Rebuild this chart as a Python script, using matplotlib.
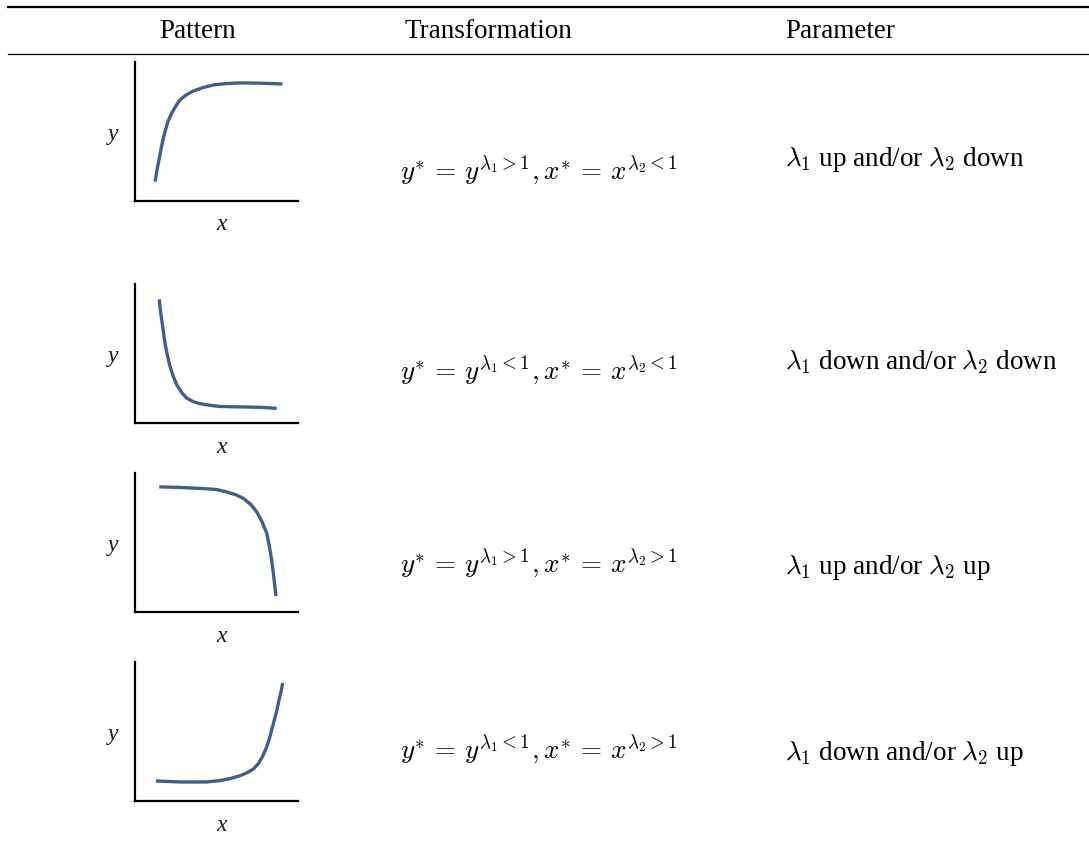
import matplotlib
matplotlib.use("Agg")
import matplotlib.pyplot as plt
from matplotlib.lines import Line2D

plt.rcParams['mathtext.fontset'] = 'cm'
plt.rcParams['font.family'] = ['Liberation Serif', 'DejaVu Serif']

# ---- data ----
headers = ["Pattern", "Transformation", "Parameter"]

curve1_x = [0.123, 0.137, 0.153, 0.168, 0.184, 0.202, 0.225, 0.250, 0.276, 0.313,
            0.358, 0.415, 0.481, 0.552, 0.624, 0.706, 0.787, 0.904]
curve1_y = [0.139, 0.235, 0.331, 0.422, 0.499, 0.571, 0.631, 0.683, 0.727, 0.763,
            0.791, 0.815, 0.835, 0.844, 0.849, 0.849, 0.847, 0.842]

curve2_x = [0.149, 0.155, 0.164, 0.174, 0.184, 0.198, 0.215, 0.235, 0.256, 0.286,
            0.317, 0.358, 0.399, 0.460, 0.521, 0.603, 0.685, 0.787, 0.869]
curve2_y = [0.890, 0.813, 0.742, 0.658, 0.574, 0.490, 0.407, 0.335, 0.275, 0.220,
            0.179, 0.153, 0.139, 0.127, 0.119, 0.117, 0.115, 0.112, 0.105]

curve3_x = [0.149, 0.276, 0.419, 0.501, 0.562, 0.620, 0.665, 0.710, 0.746, 0.779,
            0.808, 0.824, 0.838, 0.851, 0.865]
curve3_y = [0.900, 0.896, 0.888, 0.881, 0.864, 0.843, 0.817, 0.774, 0.722, 0.650,
            0.567, 0.476, 0.376, 0.257, 0.114]

curve4_x = [0.129, 0.276, 0.440, 0.521, 0.583, 0.640, 0.685, 0.726, 0.757, 0.783,
            0.808, 0.828, 0.849, 0.869, 0.883, 0.896, 0.906]
curve4_y = [0.144, 0.137, 0.137, 0.147, 0.161, 0.180, 0.202, 0.230, 0.269, 0.322,
            0.389, 0.465, 0.557, 0.645, 0.724, 0.784, 0.849]

formulas = [
    r"$y^{*}\,=\,y^{\lambda_1>1}, x^{*}\,=\,x^{\lambda_2<1}$",
    r"$y^{*}\,=\,y^{\lambda_1<1}, x^{*}\,=\,x^{\lambda_2<1}$",
    r"$y^{*}\,=\,y^{\lambda_1>1}, x^{*}\,=\,x^{\lambda_2>1}$",
    r"$y^{*}\,=\,y^{\lambda_1<1}, x^{*}\,=\,x^{\lambda_2>1}$",
]
parameters = [
    r"$\lambda_1$ up and/or $\lambda_2$ down",
    r"$\lambda_1$ down and/or $\lambda_2$ down",
    r"$\lambda_1$ up and/or $\lambda_2$ up",
    r"$\lambda_1$ down and/or $\lambda_2$ up",
]

curves = [(curve1_x, curve1_y), (curve2_x, curve2_y),
          (curve3_x, curve3_y), (curve4_x, curve4_y)]

# ---- layout (pixels) ----
W, H = 1089, 847
fig = plt.figure(figsize=(W / 100, H / 100), dpi=100)

def fx(px):
    return px / W

def fy(py):
    return 1 - py / H

# rules
fig.add_artist(Line2D([fx(8), fx(1089)], [fy(7), fy(7)], color='black', lw=1.6))
fig.add_artist(Line2D([fx(8), fx(1089)], [fy(54), fy(54)], color='black', lw=0.9))

header_x = [198, 488, 840]
for h, x in zip(headers, header_x):
    fig.text(fx(x), fy(31), h, ha='center', va='center', fontsize=19.5)

panel_top = [62, 284, 473, 662]
panel_bot = [201, 423, 612, 801]
panel_left, panel_right = 135, 298
formula_y = [170, 370, 563, 749]
param_y = [159, 362, 568, 753]
color = '#3d5f8e'

for i, (cx, cy) in enumerate(curves):
    t, b = panel_top[i], panel_bot[i]
    ax = fig.add_axes([fx(panel_left), fy(b), fx(panel_right) - fx(panel_left),
                       fy(t) - fy(b)])
    ax.plot(cx, cy, color=color, lw=2.4, solid_capstyle='butt', solid_joinstyle='round')
    ax.set_xlim(0, 1)
    ax.set_ylim(0, 1)
    ax.set_xticks([])
    ax.set_yticks([])
    for s in ['top', 'right']:
        ax.spines[s].set_visible(False)
    for s in ['left', 'bottom']:
        ax.spines[s].set_linewidth(1.6)
        ax.spines[s].set_color('black')
    ax.patch.set_alpha(0)
    fig.text(fx(113), fy((t + b) / 2 + 3), "y", ha='center', va='center',
             fontsize=17, style='italic', color='#1a1a1a')
    fig.text(fx(222), fy(b + 24), "x", ha='center', va='center',
             fontsize=17, style='italic', color='#1a1a1a')
    fig.text(fx(400), fy(formula_y[i]), formulas[i], ha='left', va='center',
             fontsize=19.5)
    fig.text(fx(785), fy(param_y[i]), parameters[i], ha='left', va='center',
             fontsize=19.5)

fig.savefig("out.png", dpi=100)
